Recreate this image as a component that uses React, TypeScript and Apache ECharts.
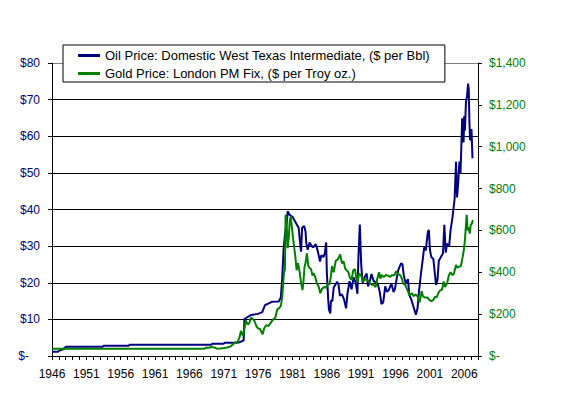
import React, { useEffect, useRef } from "react";
import * as echarts from "echarts";

// Oil Price: WTI monthly ($ per Bbl) — [decimal year, price]
const oilData: [number, number][] = [
  [1946.0, 1.17], [1946.9, 1.17], [1947.0, 1.4], [1947.3, 1.6], [1947.7, 1.9], [1948.0, 2.5],
  [1953.4, 2.5], [1953.5, 2.8], [1957.2, 2.8], [1957.3, 3.1], [1969.2, 3.1], [1969.3, 3.35],
  [1971.0, 3.35], [1971.1, 3.6], [1973.0, 3.6], [1973.5, 3.9], [1973.9, 4.3], [1974.0, 10.1],
  [1975.0, 11.2], [1976.0, 11.5], [1976.6, 12.0], [1977.0, 13.9], [1978.0, 14.8], [1979.0, 14.9],
  [1979.3, 16], [1979.5, 21], [1979.7, 29], [1979.9, 33], [1980.2, 37], [1980.3, 39.5],
  [1980.6, 38.5], [1981.0, 38], [1981.3, 37], [1981.6, 36], [1981.9, 35], [1982.1, 31],
  [1982.25, 28.5], [1982.4, 35], [1982.7, 35.5], [1982.9, 34], [1983.0, 31], [1983.2, 29],
  [1983.5, 31], [1983.8, 30], [1984.0, 29.7], [1984.4, 30.5], [1984.7, 28.5], [1985.0, 25.8],
  [1985.2, 27.5], [1985.5, 27], [1985.7, 28], [1985.9, 31], [1986.0, 22.9], [1986.2, 15.4],
  [1986.3, 12.8], [1986.5, 11.6], [1986.6, 15.1], [1986.8, 15], [1987.0, 18.7], [1987.5, 20.3],
  [1987.7, 19.5], [1987.9, 16.5], [1988.2, 16.8], [1988.5, 15.5], [1988.8, 13], [1989.0, 17],
  [1989.3, 20.4], [1989.6, 18.2], [1989.9, 21.5], [1990.2, 20.0], [1990.45, 17.0], [1990.6, 27],
  [1990.8, 35.9], [1991.0, 25], [1991.2, 20], [1991.5, 21.5], [1991.8, 22.5], [1992.0, 19],
  [1992.3, 20.8], [1992.5, 22.4], [1992.8, 20.5], [1993.1, 20.1], [1993.4, 19.8], [1993.7, 17.5],
  [1993.95, 14.2], [1994.2, 14.6], [1994.5, 19], [1994.75, 17.5], [1995.0, 18], [1995.4, 19.8],
  [1995.7, 17.5], [1995.9, 18.2], [1996.2, 21.5], [1996.4, 23.5], [1996.8, 25.3], [1997.0, 25.1],
  [1997.2, 22], [1997.5, 19.7], [1997.8, 21], [1998.0, 16.7], [1998.3, 15.4], [1998.6, 13.5],
  [1998.95, 11.3], [1999.2, 13], [1999.4, 17.5], [1999.7, 22.5], [2000.0, 27], [2000.2, 30],
  [2000.4, 28.8], [2000.7, 33.9], [2000.85, 34.4], [2001.0, 29], [2001.2, 27], [2001.5, 26.5],
  [2001.75, 22], [2001.9, 19.4], [2002.1, 20.7], [2002.3, 26], [2002.6, 27], [2002.9, 28],
  [2003.1, 35.8], [2003.3, 28.2], [2003.5, 30.7], [2003.8, 29.9], [2004.0, 34.3], [2004.3, 38],
  [2004.6, 43], [2004.8, 53], [2004.95, 43.3], [2005.1, 46.8], [2005.3, 53.1], [2005.45, 49.8],
  [2005.6, 58.7], [2005.7, 64.9], [2005.9, 58.3], [2006.0, 65.5], [2006.1, 61.6], [2006.25, 69.5],
  [2006.4, 70.9], [2006.55, 74.4], [2006.65, 73], [2006.75, 63.8], [2006.85, 58.9], [2006.95, 59.4],
  [2007.05, 62], [2007.2, 54],
];

// Gold Price: London PM Fix ($ per Troy oz.) — [decimal year, price]
const goldData: [number, number][] = [
  [1946.0, 35], [1968.2, 35], [1968.4, 40], [1968.8, 39], [1969.2, 43], [1969.6, 41],
  [1970.0, 35], [1970.5, 36], [1971.0, 38], [1971.5, 41], [1972.0, 46], [1972.4, 57],
  [1972.7, 66], [1973.0, 65], [1973.3, 90], [1973.5, 120], [1973.8, 95], [1974.0, 130],
  [1974.2, 170], [1974.5, 150], [1974.75, 160], [1974.95, 183], [1975.2, 178], [1975.5, 165],
  [1975.75, 142], [1976.0, 132], [1976.3, 128], [1976.65, 104], [1976.9, 134], [1977.2, 148],
  [1977.5, 143], [1977.9, 162], [1978.2, 175], [1978.5, 183], [1978.8, 225], [1979.0, 227],
  [1979.3, 238], [1979.5, 280], [1979.75, 397], [1979.9, 415], [1980.0, 675], [1980.15, 636],
  [1980.3, 515], [1980.45, 561], [1980.6, 645], [1980.75, 666], [1980.9, 619], [1981.1, 557],
  [1981.4, 480], [1981.6, 410], [1981.8, 444], [1982.0, 410], [1982.3, 340], [1982.45, 315],
  [1982.6, 355], [1982.75, 425], [1982.9, 445], [1983.1, 490], [1983.3, 430], [1983.5, 420],
  [1983.7, 415], [1983.9, 385], [1984.1, 395], [1984.3, 378], [1984.55, 347], [1984.8, 333],
  [1985.05, 300], [1985.3, 320], [1985.6, 330], [1985.9, 325], [1986.1, 345], [1986.4, 343],
  [1986.6, 383], [1986.75, 430], [1987.0, 400], [1987.3, 455], [1987.6, 462], [1987.95, 485],
  [1988.2, 443], [1988.45, 452], [1988.65, 420], [1988.85, 410], [1989.1, 403], [1989.4, 370],
  [1989.6, 365], [1989.85, 410], [1990.1, 415], [1990.3, 370], [1990.5, 352], [1990.7, 395],
  [1991.0, 383], [1991.3, 357], [1991.6, 367], [1991.9, 362], [1992.2, 352], [1992.5, 341],
  [1992.8, 340], [1993.1, 330], [1993.35, 370], [1993.6, 400], [1993.8, 370], [1994.0, 388],
  [1994.3, 377], [1994.6, 387], [1994.9, 384], [1995.2, 378], [1995.5, 387], [1995.8, 384],
  [1996.1, 405], [1996.4, 391], [1996.7, 385], [1996.95, 368], [1997.1, 347], [1997.4, 340],
  [1997.6, 324], [1997.85, 306], [1998.0, 290], [1998.4, 300], [1998.6, 286], [1998.9, 293],
  [1999.2, 286], [1999.5, 256], [1999.8, 310], [2000.0, 284], [2000.3, 279], [2000.6, 280],
  [2000.9, 269], [2001.2, 262], [2001.5, 268], [2001.75, 283], [2002.0, 281], [2002.25, 302],
  [2002.5, 314], [2002.75, 316], [2003.0, 356], [2003.2, 330], [2003.5, 346], [2003.75, 385],
  [2004.0, 400], [2004.3, 386], [2004.5, 394], [2004.8, 435], [2005.0, 422], [2005.3, 427],
  [2005.5, 430], [2005.75, 470], [2005.95, 510], [2006.1, 555], [2006.35, 675], [2006.5, 600],
  [2006.65, 615], [2006.8, 585], [2006.95, 628], [2007.1, 632], [2007.25, 650],
];

const seriesNames = [
  "Oil Price: Domestic West Texas Intermediate, ($ per Bbl)",
  "Gold Price: London PM Fix, ($ per Troy oz.)",
];

const FONT = "'Liberation Sans', Arial, sans-serif";

export default function App() {
  const ref = useRef<HTMLDivElement>(null);
  useEffect(() => {
    if (!ref.current) return;
    const chart = echarts.init(ref.current, undefined, { renderer: "svg" });
    const splitColors = ["#000", "#000", "#000", "#000", "#000", "#000", "#000", "#000", "#808080"];
    chart.setOption({
      animation: false,
      backgroundColor: "#fff",
      textStyle: { fontFamily: FONT },
      grid: { left: 52, right: 98, top: 63, bottom: 38, containLabel: false },
      legend: {
        orient: "vertical",
        left: 63,
        top: 45,
        padding: [3, 15, 1, 15],
        itemGap: 3,
        itemWidth: 22,
        itemHeight: 3,
        icon: "rect",
        borderColor: "#000",
        borderWidth: 1,
        backgroundColor: "#fff",
        textStyle: { fontFamily: FONT, fontSize: 13, color: "#000", lineHeight: 15 },
        data: seriesNames,
      },
      xAxis: {
        type: "value",
        min: 1946,
        max: 2008,
        interval: 1,
        axisLine: { show: true, lineStyle: { color: "#000", width: 1 } },
        axisTick: { show: true, length: 4, lineStyle: { color: "#000" } },
        splitLine: { show: false },
        axisLabel: {
          margin: 12,
          fontSize: 12,
          color: "#000",
          fontFamily: FONT,
          formatter: (v: number) => ((v - 1946) % 5 === 0 && v <= 2006 ? String(v) : ""),
        },
      },
      yAxis: [
        {
          type: "value",
          min: 0,
          max: 80,
          interval: 10,
          position: "left",
          axisLine: { show: true, lineStyle: { color: "#000" } },
          axisTick: { show: true, length: 4, lineStyle: { color: "#000" } },
          splitLine: { show: true, lineStyle: { color: splitColors, width: 1 } },
          axisLabel: {
            margin: 12,
            fontSize: 12,
            color: "#000080",
            fontFamily: FONT,
            formatter: (v: number) => (v === 0 ? "{z|$-}" : "$" + v),
            rich: { z: { padding: [0, 11, 0, 0], fontSize: 12, color: "#000080", fontFamily: FONT } },
          },
        },
        {
          type: "value",
          min: 0,
          max: 1400,
          interval: 200,
          position: "right",
          axisLine: { show: true, lineStyle: { color: "#000" } },
          axisTick: { show: true, length: 4, lineStyle: { color: "#000" } },
          splitLine: { show: false },
          axisLabel: {
            margin: 11,
            fontSize: 12,
            color: "#008000",
            fontFamily: FONT,
            formatter: (v: number) => (v === 0 ? "$-" : "$" + v.toLocaleString("en-US")),
          },
        },
      ],
      series: [
        {
          name: seriesNames[0],
          type: "line",
          yAxisIndex: 0,
          data: oilData,
          showSymbol: false,
          lineStyle: { color: "#000080", width: 2 },
          itemStyle: { color: "#000080" },
        },
        {
          name: seriesNames[1],
          type: "line",
          yAxisIndex: 1,
          data: goldData,
          showSymbol: false,
          lineStyle: { color: "#008000", width: 2 },
          itemStyle: { color: "#008000" },
        },
      ],
    });
    return () => chart.dispose();
  }, []);
  return (
    <div
      ref={ref}
      style={{ position: "fixed", left: 0, top: 0, width: 576, height: 394, background: "#fff" }}
    />
  );
}
